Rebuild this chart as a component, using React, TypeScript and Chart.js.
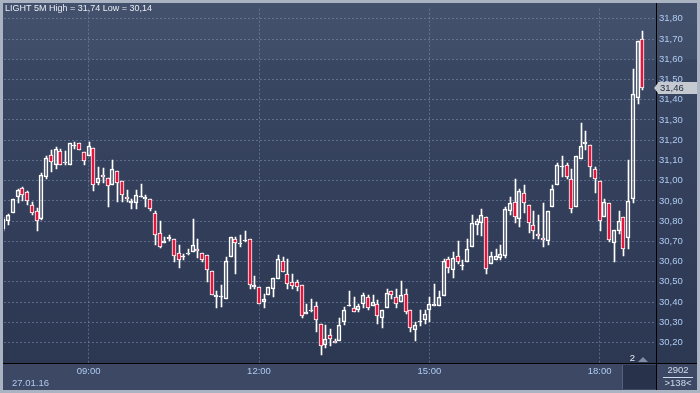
import React, { useEffect, useRef } from 'react';
import { Chart, registerables } from 'chart.js';

Chart.register(...registerables);

// ---- Data (5-minute candles, 27.01.16, starting 07:30) ----
const opens = [
  30.76, 30.80, 30.84, 30.92, 30.965, 30.945, 30.88, 30.85, 30.81, 31.02,
  31.125, 31.08, 31.145, 31.085, 31.08, 31.17, 31.185, 31.143, 31.124, 31.163,
  30.99, 31.03, 31.012, 30.98, 31.05, 31.00, 30.92, 30.889, 30.889, 30.92,
  30.91, 30.91, 30.84, 30.74, 30.69, 30.71, 30.71, 30.643, 30.623, 30.64,
  30.65, 30.662, 30.643, 30.633, 30.552, 30.425, 30.426, 30.415, 30.624, 30.711,
  30.685, 30.70, 30.711, 30.473, 30.473, 30.40, 30.433, 30.463, 30.512, 30.604,
  30.541, 30.50, 30.50, 30.483, 30.342, 30.358, 30.382, 30.293, 30.19, 30.235,
  30.21, 30.21, 30.30, 30.38, 30.37, 30.36, 30.39, 30.424, 30.382, 30.39,
  30.322, 30.373, 30.454, 30.424, 30.40, 30.442, 30.36, 30.264, 30.30, 30.31,
  30.36, 30.382, 30.382, 30.431, 30.611, 30.557, 30.63, 30.577, 30.60, 30.67,
  30.78, 30.79, 30.82, 30.59, 30.61, 30.62, 30.63, 30.85, 30.897, 30.81,
  30.94, 30.878, 30.78, 30.737, 30.718, 30.70, 30.868, 30.98, 31.068, 31.078,
  31.01, 30.868, 31.108, 31.181, 31.178, 31.058, 30.998, 30.82, 30.888, 30.69,
  30.75, 30.82, 30.718, 30.91, 31.408, 31.70,
];
const highs = [
  30.82, 30.835, 30.91, 30.96, 30.97, 30.95, 30.895, 30.865, 31.04, 31.12,
  31.15, 31.165, 31.155, 31.145, 31.185, 31.19, 31.185, 31.143, 31.19, 31.163,
  31.07, 31.064, 31.012, 31.10, 31.05, 31.00, 30.956, 30.91, 30.953, 30.985,
  30.93, 30.91, 30.848, 30.80, 30.72, 30.73, 30.71, 30.68, 30.636, 30.663,
  30.81, 30.71, 30.643, 30.633, 30.552, 30.455, 30.484, 30.625, 30.72, 30.722,
  30.73, 30.752, 30.711, 30.53, 30.473, 30.44, 30.473, 30.52, 30.632, 30.622,
  30.614, 30.541, 30.51, 30.483, 30.39, 30.415, 30.40, 30.293, 30.285, 30.266,
  30.22, 30.322, 30.374, 30.454, 30.423, 30.392, 30.444, 30.434, 30.434, 30.41,
  30.36, 30.463, 30.454, 30.463, 30.504, 30.463, 30.36, 30.30, 30.36, 30.36,
  30.423, 30.49, 30.454, 30.614, 30.622, 30.65, 30.70, 30.61, 30.71, 30.83,
  30.81, 30.86, 30.82, 30.65, 30.66, 30.68, 30.87, 30.92, 31.01, 30.96,
  30.98, 30.878, 30.85, 30.83, 30.89, 30.85, 30.98, 31.087, 31.123, 31.087,
  31.058, 31.12, 31.287, 31.246, 31.178, 31.068, 30.998, 30.91, 30.888, 30.757,
  30.85, 30.82, 31.10, 31.55, 31.692, 31.74,
];
const lows = [
  30.75, 30.78, 30.84, 30.89, 30.90, 30.88, 30.83, 30.75, 30.805, 31.01,
  31.045, 31.06, 31.08, 31.08, 31.08, 31.155, 31.15, 31.077, 31.124, 30.95,
  30.98, 30.99, 30.87, 30.98, 30.897, 30.897, 30.897, 30.86, 30.86, 30.92,
  30.87, 30.85, 30.68, 30.665, 30.69, 30.70, 30.60, 30.568, 30.607, 30.632,
  30.65, 30.62, 30.60, 30.50, 30.433, 30.37, 30.374, 30.415, 30.624, 30.54,
  30.67, 30.695, 30.464, 30.464, 30.39, 30.37, 30.433, 30.424, 30.512, 30.55,
  30.464, 30.464, 30.454, 30.32, 30.342, 30.35, 30.253, 30.14, 30.172, 30.183,
  30.20, 30.21, 30.285, 30.38, 30.352, 30.352, 30.373, 30.36, 30.382, 30.29,
  30.272, 30.373, 30.413, 30.373, 30.40, 30.342, 30.253, 30.21, 30.282, 30.29,
  30.30, 30.382, 30.382, 30.431, 30.546, 30.517, 30.59, 30.557, 30.60, 30.67,
  30.734, 30.728, 30.538, 30.59, 30.61, 30.61, 30.62, 30.83, 30.79, 30.77,
  30.84, 30.74, 30.71, 30.71, 30.67, 30.68, 30.868, 30.98, 31.02, 31.01,
  30.84, 30.868, 31.108, 31.15, 31.02, 30.94, 30.75, 30.82, 30.695, 30.60,
  30.737, 30.63, 30.66, 30.89, 31.38, 31.446,
];
const closes = [
  30.81, 30.83, 30.91, 30.955, 30.93, 30.90, 30.84, 30.80, 31.03, 31.11,
  31.09, 31.155, 31.08, 31.09, 31.185, 31.172, 31.15, 31.098, 31.172, 30.98,
  31.013, 31.02, 30.973, 31.06, 30.99, 30.93, 30.91, 30.90, 30.93, 30.921,
  30.92, 30.86, 30.73, 30.67, 30.70, 30.72, 30.63, 30.61, 30.624, 30.641,
  30.68, 30.652, 30.61, 30.56, 30.433, 30.435, 30.427, 30.604, 30.72, 30.692,
  30.693, 30.701, 30.483, 30.483, 30.39, 30.415, 30.473, 30.52, 30.614, 30.55,
  30.49, 30.48, 30.473, 30.332, 30.353, 30.359, 30.31, 30.183, 30.22, 30.22,
  30.20, 30.285, 30.36, 30.381, 30.352, 30.382, 30.434, 30.373, 30.40, 30.332,
  30.36, 30.444, 30.433, 30.39, 30.434, 30.352, 30.274, 30.285, 30.301, 30.342,
  30.392, 30.392, 30.423, 30.603, 30.567, 30.62, 30.60, 30.578, 30.66, 30.79,
  30.80, 30.83, 30.565, 30.63, 30.63, 30.64, 30.86, 30.888, 30.82, 30.95,
  30.888, 30.79, 30.75, 30.728, 30.708, 30.85, 30.96, 31.078, 31.069, 31.02,
  30.86, 31.12, 31.17, 31.19, 31.068, 31.01, 30.80, 30.896, 30.708, 30.757,
  30.80, 30.66, 30.898, 31.428, 31.692, 31.46,
];

const timeTickIndex = [18, 54, 90, 126];
const timeTickLabels = ['09:00', '12:00', '15:00', '18:00'];
const priceTicks = [30.2, 30.3, 30.4, 30.5, 30.6, 30.7, 30.8, 30.9, 31.0, 31.1, 31.2, 31.3, 31.4, 31.5, 31.6, 31.7, 31.8];
const titleText = 'LIGHT 5M High = 31,74 Low = 30,14';
const dateText = '27.01.16';
const lastPrice = 31.46;
const barCountText = '2902';
const visibleText = '>138<';
const scrollText = '2';

const RED = '#e2163d';
const WHITE = '#ffffff';
const TICK_BLUE = '#aecbf2';
const FONT = '"Liberation Sans", Arial, sans-serif';

const fmt = (v: number) => v.toFixed(2).replace('.', ',');

// Snap the bar elements (positioned by the scales) to whole pixels for crisp candles.
const snapPlugin = {
  id: 'snap',
  beforeDatasetsDraw(chart: any) {
    chart.data.datasets.forEach((ds: any, di: number) => {
      const meta = chart.getDatasetMeta(di);
      const isBody = ds.label === 'body';
      meta.data.forEach((el: any) => {
        if (isBody) {
          el.x = Math.round(el.x);
          let y = Math.round(el.y);
          let b = Math.round(el.base);
          if (y === b) b = y + 1;
          el.y = y;
          el.base = b;
          el.height = b - y;
        } else {
          el.x = Math.round(el.x) + 0.5;
          el.y = Math.round(el.y);
          el.base = Math.round(el.base);
          el.height = el.base - el.y;
        }
      });
    });
  },
};

const decorPlugin = {
  id: 'decor',
  beforeDraw(chart: any) {
    const { ctx, width, height } = chart;
    ctx.save();
    ctx.fillStyle = '#aab3c1';
    ctx.fillRect(0, 0, width, height);
    ctx.fillStyle = '#3d4964';
    ctx.fillRect(3, 3, width - 6, height - 6);
    const top = 3, bottom = 363;
    const g = ctx.createLinearGradient(0, top, 0, bottom);
    g.addColorStop(0, '#44516c');
    g.addColorStop(0.155, '#404d68');
    g.addColorStop(0.158, '#3a4762');
    g.addColorStop(1, '#2c3752');
    ctx.fillStyle = g;
    ctx.fillRect(3, top, width - 6, bottom - top);
    ctx.restore();
  },
  afterDraw(chart: any) {
    const { ctx, width, height, scales } = chart;
    const area = chart.chartArea;
    ctx.save();
    ctx.strokeStyle = '#000000';
    ctx.lineWidth = 1;
    ctx.beginPath();
    ctx.moveTo(3, Math.round(area.bottom) + 0.5);
    ctx.lineTo(width - 3, Math.round(area.bottom) + 0.5);
    ctx.moveTo(Math.round(area.right) + 0.5, 3);
    ctx.lineTo(Math.round(area.right) + 0.5, height - 3);
    ctx.stroke();

    ctx.fillStyle = '#e9edf5';
    ctx.font = `9px ${FONT}`;
    ctx.textBaseline = 'middle';
    ctx.textAlign = 'left';
    ctx.fillText(titleText, 5, 9);

    ctx.font = `9.5px ${FONT}`;
    ctx.fillStyle = TICK_BLUE;
    ctx.fillText(dateText, 12, 383);

    ctx.fillStyle = '#28324a';
    ctx.fillRect(623, 365, 33, 24);
    ctx.fillStyle = '#56627a';
    ctx.fillRect(622, 365, 1, 24);
    ctx.fillStyle = '#e6ebf3';
    ctx.textAlign = 'center';
    ctx.fillText(scrollText, 632.5, 358);
    ctx.fillStyle = '#7f8ca4';
    ctx.beginPath();
    ctx.moveTo(638, 362);
    ctx.lineTo(643, 357);
    ctx.lineTo(648, 362);
    ctx.closePath();
    ctx.fill();

    ctx.fillStyle = '#cfdcef';
    ctx.fillText(barCountText, 678, 370);
    ctx.fillRect(663, 377, 30, 1);
    ctx.fillText(visibleText, 678, 383);

    const y = Math.round(scales.y.getPixelForValue(lastPrice));
    const bx = Math.round(area.right) + 2;
    ctx.fillStyle = '#c5c9d0';
    ctx.fillRect(bx, y - 6, 697 - bx, 12);
    ctx.beginPath();
    ctx.moveTo(bx - 4, y);
    ctx.lineTo(bx, y - 5);
    ctx.lineTo(bx, y + 5);
    ctx.closePath();
    ctx.fill();
    ctx.fillStyle = '#1f2a3d';
    ctx.textAlign = 'left';
    ctx.fillText(fmt(lastPrice), bx + 2, y + 0.5);
    ctx.restore();
  },
};

export default function App() {
  const ref = useRef<HTMLCanvasElement | null>(null);

  useEffect(() => {
    if (!ref.current) return;
    const idx = opens.map((_, i) => i);
    const upper = idx.map((i) => ({ x: i, y: [Math.max(opens[i], closes[i]), highs[i]] }));
    const lower = idx.map((i) => ({ x: i, y: [lows[i], Math.min(opens[i], closes[i])] }));
    const bodies = idx.map((i) => ({ x: i, y: [opens[i], closes[i]] }));

    const gridColor = 'rgba(125,145,180,0.55)';

    const chart = new Chart(ref.current, {
      type: 'bar',
      data: {
        datasets: [
          {
            label: 'upper',
            data: upper as any,
            backgroundColor: WHITE,
            borderWidth: 0,
            barThickness: 1,
            grouped: false,
            order: 2,
          } as any,
          {
            label: 'lower',
            data: lower as any,
            backgroundColor: WHITE,
            borderWidth: 0,
            barThickness: 1,
            grouped: false,
            order: 2,
          } as any,
          {
            label: 'body',
            data: bodies as any,
            backgroundColor: (c: any) => {
              const i = c.dataIndex;
              return closes[i] < opens[i] ? RED : 'rgba(0,0,0,0)';
            },
            borderColor: WHITE,
            borderWidth: 1,
            borderSkipped: false,
            barThickness: 4,
            minBarLength: 1,
            grouped: false,
            order: 1,
          } as any,
        ],
      },
      options: {
        responsive: false,
        animation: false,
        events: [],
        layout: { padding: { left: 4, top: 3, right: 0, bottom: 0 } },
        plugins: {
          legend: { display: false },
          tooltip: { enabled: false },
          title: { display: false },
        },
        scales: {
          x: {
            type: 'linear',
            position: 'bottom',
            min: 0.106,
            max: 137.9,
            offset: false,
            afterFit: (s: any) => { s.height = 30; },
            afterBuildTicks: (s: any) => { s.ticks = timeTickIndex.map((v) => ({ value: v })); },
            grid: { color: gridColor, lineWidth: 1, drawTicks: false, offset: false },
            border: { display: false, dash: [2, 2] },
            ticks: {
              autoSkip: false,
              maxRotation: 0,
              padding: 3,
              color: TICK_BLUE,
              font: { family: FONT, size: 9.5 },
              callback: (v: any) => timeTickLabels[timeTickIndex.indexOf(Number(v))] ?? '',
            },
          },
          y: {
            type: 'linear',
            position: 'right',
            min: 30.099,
            max: 31.85,
            afterFit: (s: any) => { s.width = 44; },
            afterBuildTicks: (s: any) => { s.ticks = priceTicks.map((v) => ({ value: v })); },
            grid: { color: gridColor, lineWidth: 1, drawTicks: false },
            border: { display: false, dash: [2, 2] },
            ticks: {
              padding: 3,
              color: TICK_BLUE,
              font: { family: FONT, size: 9.5 },
              callback: (v: any) => fmt(Number(v)),
            },
          },
        },
      } as any,
      plugins: [snapPlugin, decorPlugin],
    });
    return () => chart.destroy();
  }, []);

  return (
    <div style={{ position: 'fixed', left: 0, top: 0, width: 700, height: 393 }}>
      <canvas ref={ref} width={700} height={393} style={{ display: 'block', width: 700, height: 393 }} />
    </div>
  );
}
